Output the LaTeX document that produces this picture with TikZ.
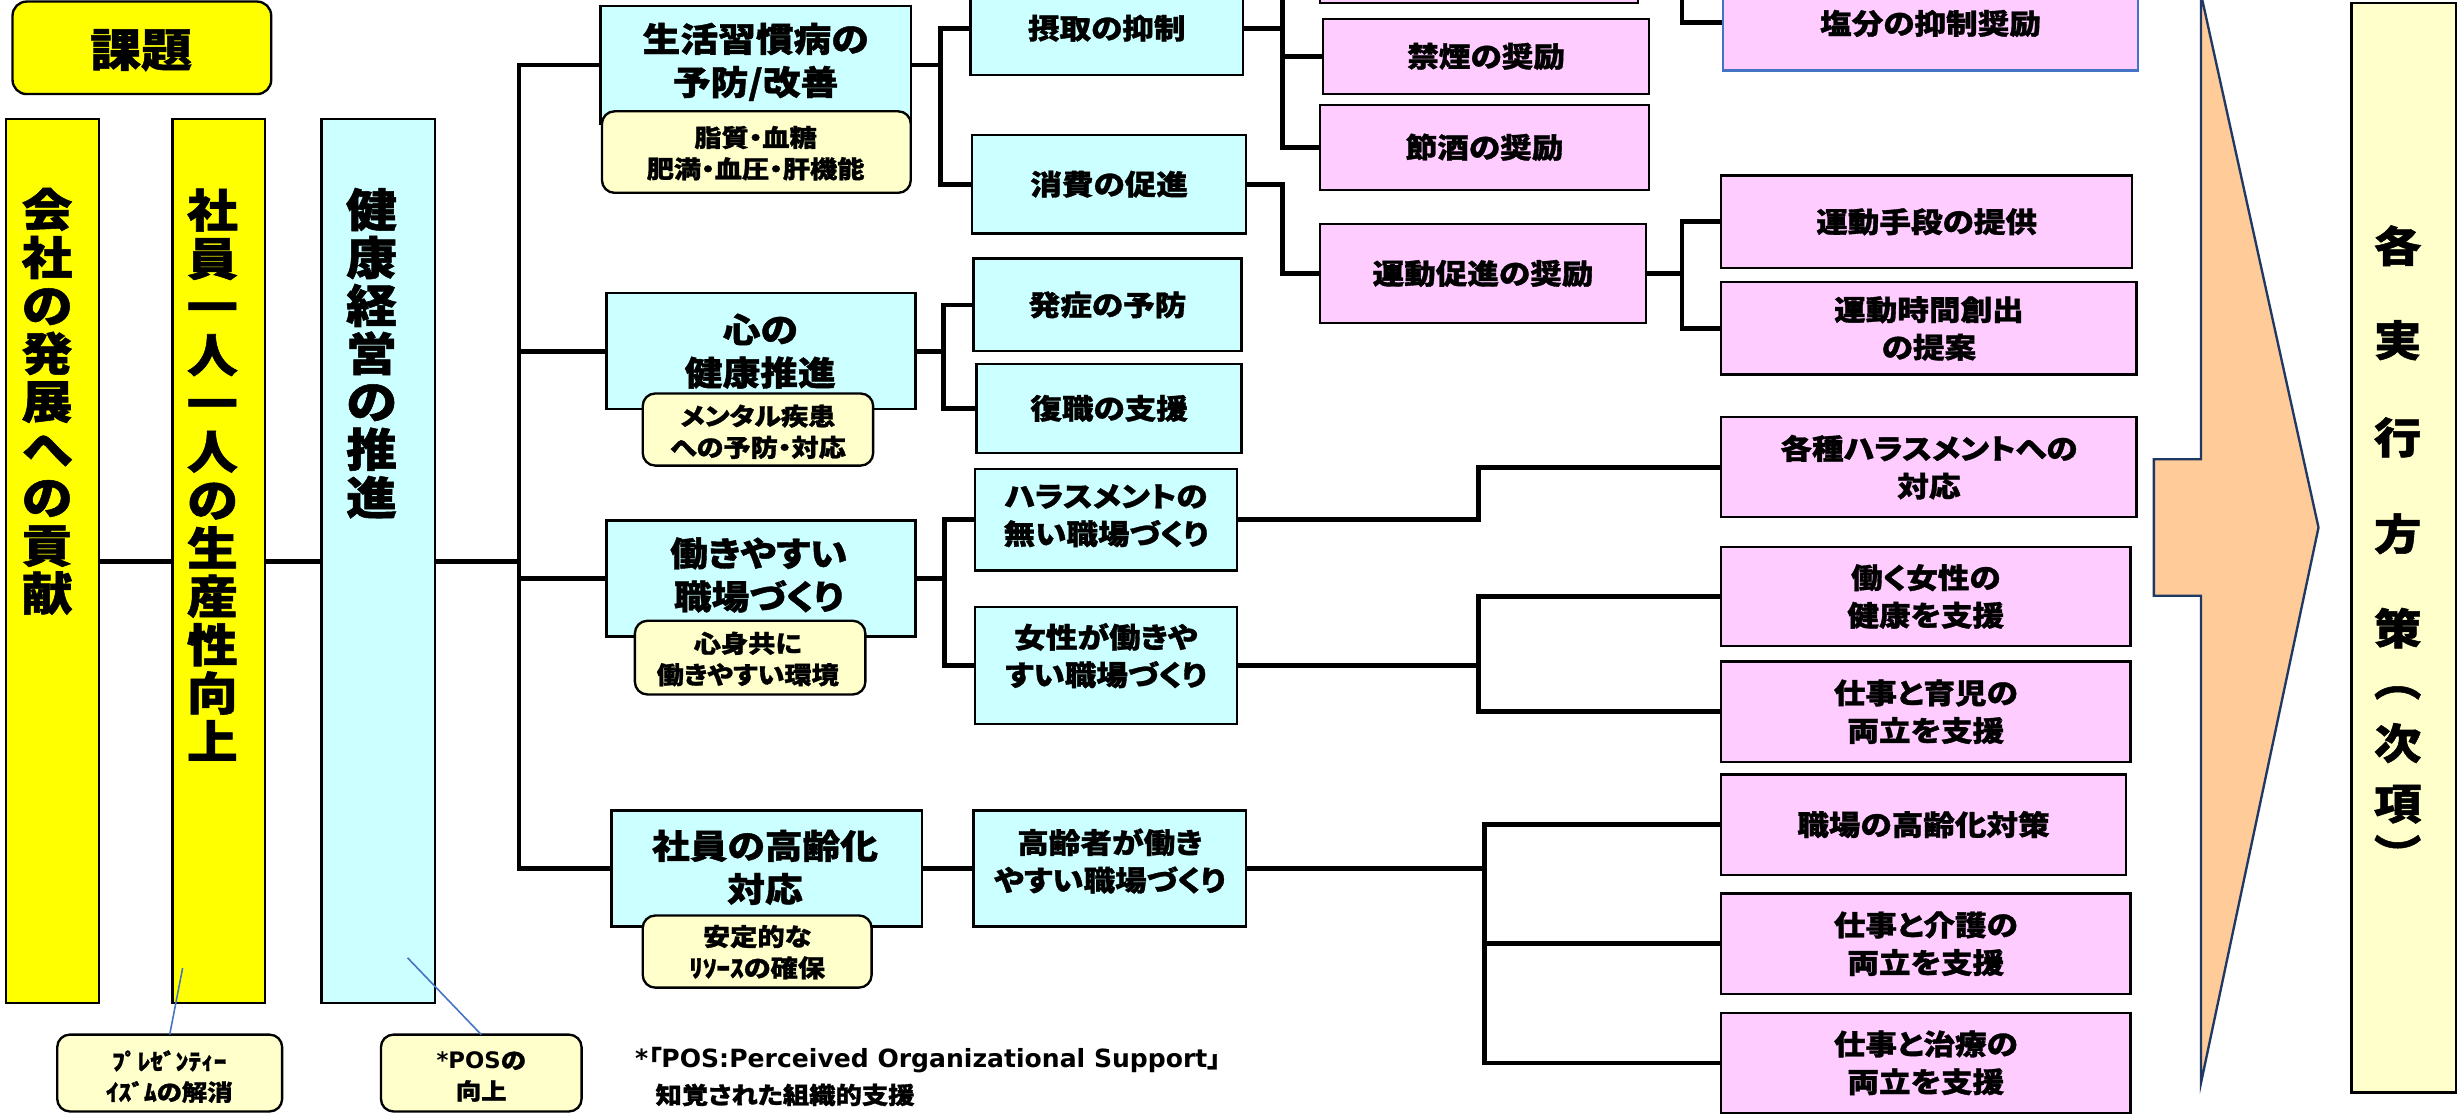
\documentclass[tikz,border=0pt]{standalone}
\usepackage{fontspec}
\setmainfont{Noto Sans CJK JP}[FakeStretch=1.12,RawFeature=+palt,BoldFeatures={FakeBold=1.2}]
\newfontfamily\lat{DejaVu Sans}
\usetikzlibrary{fit}
\pgfdeclarelayer{bg}
\pgfsetlayers{bg,main}
\definecolor{ylw}{HTML}{FFFF00}
\definecolor{cyn}{HTML}{CCFFFF}
\definecolor{lyl}{HTML}{FFFFCC}
\definecolor{pnk}{HTML}{FFCCFF}
\definecolor{org}{HTML}{FFCC99}
\definecolor{navy}{HTML}{1F3864}
\definecolor{blu}{HTML}{4472C4}
\tikzset{
  box/.style={draw=black, line width=1.5pt, inner sep=0pt, outer sep=0pt},
  ybox/.style={box, fill=ylw},
  cbox/.style={box, fill=cyn},
  pbox/.style={box, fill=pnk},
  lbox/.style={box, fill=lyl},
  sbox/.style={box, fill=lyl, rounded corners=8pt},
  conn/.style={draw=black, line width=3pt, line join=miter, line cap=rect},
  cline/.style={draw=blu, line width=1pt},
  ttl/.style={inner sep=0pt, align=center, font=\bfseries\fontsize{29}{30.6}\selectfont},
  thd/.style={inner sep=0pt, align=center, font=\bfseries\fontsize{21.5}{27.5}\selectfont},
  tmd/.style={inner sep=0pt, align=center, font=\bfseries\fontsize{18}{24}\selectfont},
  tsm/.style={inner sep=0pt, align=center, font=\bfseries\fontsize{15.5}{20}\selectfont},
  tcl/.style={inner sep=0pt, align=center, font=\bfseries\fontsize{14.5}{19.6}\selectfont},
  tvr/.style={inner sep=0pt, font=\bfseries\fontsize{27}{27}\selectfont},
  tfn/.style={inner sep=0pt, anchor=west, font=\bfseries\fontsize{15}{20}\selectfont},
}
\newcommand\bx[6]{\node[#6, fit={(#2,#3) (#4,#5)}] (#1) {};}
\begin{document}
\begin{tikzpicture}[x=1pt,y=-1pt]
\useasboundingbox (0,0) rectangle (1568,713);
% left
\bx{kadai}{8}{1}{173}{60}{ybox, rounded corners=9pt}
\node[ttl] (kadait) at (90,32) {課題};
\bx{colA}{4}{76}{63}{640}{ybox}
\bx{colB}{110}{76}{169}{640}{ybox}
\bx{colC}{205}{76}{277.5}{640}{cbox}
\node[ttl] (colAt) at (30,256) {会\\社\\の\\発\\展\\へ\\の\\貢\\献};
\node[ttl, font=\bfseries\fontsize{29}{30.8}\selectfont] (colBt) at (135.5,302.7) {社\\員\\一\\人\\一\\人\\の\\生\\産\\性\\向\\上};
\node[ttl] (colCt) at (237,225.3) {健\\康\\経\\営\\の\\推\\進};
% level 1
\bx{seik}{383}{4}{581}{79}{cbox}
\bx{seiks}{384}{71}{581}{123}{sbox}
\node[thd] (seikt) at (482,39.5) {生活習慣病の\\予防/改善};
\node[tsm] (seikst) at (482,97.7) {脂質・血糖\\肥満・血圧・肝機能};
\bx{koko}{387}{187}{584}{261}{cbox}
\bx{kokos}{410}{251}{557}{297}{sbox}
\node[thd] (kokot) at (485,224) {心の\\健康推進};
\node[tsm] (kokost) at (483.5,275.4) {メンタル疾患\\への予防・対応};
\bx{hata}{387}{332}{584}{406}{cbox}
\bx{hatas}{405}{396}{552}{443}{sbox}
\node[thd] (hatat) at (484,366.8) {働きやすい\\職場づくり};
\node[tsm] (hatast) at (477,420.4) {心身共に\\働きやすい環境};
\bx{kore}{390}{517}{588}{591}{cbox}
\bx{kores}{410}{584}{556}{630}{sbox}
\node[thd] (koret) at (488,553.3) {社員の高齢化\\対応};
\node[tsm] (korest) at (483,607.4) {安定的な\\ﾘｿｰｽの確保};
% level 2
\bx{sess}{619}{-12}{793}{48}{cbox}
\node[tmd] (sesst) at (706,18) {摂取の抑制};
\bx{shoh}{620}{86}{795}{149}{cbox}
\node[tmd] (shoht) at (707.5,117.5) {消費の促進};
\bx{hass}{621}{165}{792}{224}{cbox}
\node[tmd] (hasst) at (706.5,194.5) {発症の予防};
\bx{fuku}{623}{232}{792}{289}{cbox}
\node[tmd] (fukut) at (707.5,260.5) {復職の支援};
\bx{hara}{622}{299}{789}{364}{cbox}
\node[tmd] (harat) at (705.5,329) {ハラスメントの\\無い職場づくり};
\bx{jose}{622}{387}{789}{462}{cbox}
\node[tmd] (joset) at (705.5,418.3) {女性が働きや\\すい職場づくり};
\bx{kous}{621}{517}{795}{591}{cbox}
\node[tmd] (koust) at (708,549.3) {高齢者が働き\\やすい職場づくり};
% level 3
\bx{topb}{842}{-46}{1045}{2}{pbox}
\bx{kine}{844}{12}{1052}{60}{pbox}
\node[tmd] (kinet) at (948,36) {禁煙の奨励};
\bx{sets}{842}{67}{1052}{121}{pbox}
\node[tmd] (setst) at (947,94) {節酒の奨励};
\bx{undo}{842}{143}{1050}{206}{pbox}
\node[tmd] (undot) at (946,174.5) {運動促進の奨励};
\bx{enbu}{1099}{-16}{1364}{45}{pbox, draw=blu}
\node[tmd] (enbut) at (1231.5,15) {塩分の抑制奨励};
\bx{shud}{1098}{112}{1360}{171}{pbox}
\node[tmd] (shudt) at (1229,141.5) {運動手段の提供};
\bx{jika}{1098}{180}{1363}{239}{pbox}
\node[tmd] (jikat) at (1230.5,209.5) {運動時間創出\\の提案};
\bx{kaku}{1098}{266}{1363}{330}{pbox}
\node[tmd] (kakut) at (1230.5,298) {各種ハラスメントへの\\対応};
\bx{htrk}{1098}{349}{1359}{412}{pbox}
\node[tmd] (htrkt) at (1228.5,380.5) {働く女性の\\健康を支援};
\bx{ikuj}{1098}{422}{1359}{486}{pbox}
\node[tmd] (ikujt) at (1228.5,454) {仕事と育児の\\両立を支援};
\bx{shok}{1098}{494}{1356}{558}{pbox}
\node[tmd] (shokt) at (1227,526) {職場の高齢化対策};
\bx{kaig}{1098}{570}{1359}{634}{pbox}
\node[tmd] (kaigt) at (1228.5,602) {仕事と介護の\\両立を支援};
\bx{chir}{1098}{646}{1359}{710}{pbox}
\node[tmd] (chirt) at (1228.5,678) {仕事と治療の\\両立を支援};
% arrow and right box
\draw[draw=navy, fill=org, line width=1.5pt, line join=miter] (1404,-4) -- (1479,336.5) -- (1404,691) -- (1404,380) -- (1374,380) -- (1374,293) -- (1404,293) -- cycle;
\bx{jikou}{1500}{2}{1566.5}{697}{lbox}
\foreach \c/\yy [count=\i] in {各/156.7, 実/217, 行/279, 方/340.5, 策/400.7, ︵/442, 次/474, 項/513, ︶/544}
  \node[tvr] (v\i) at (1529.5,\yy) {\c};
% callouts
\bx{pres}{36.5}{660}{180}{709}{sbox}
\bx{posb}{243}{660}{371}{709}{sbox}
\node[tcl] (prest) at (108,686.8) {ﾌﾟﾚｾﾞﾝﾃｨｰ\\ｲｽﾞﾑの解消};
\node[tcl] (post) at (307,686.8) {{\lat *POS}の\\向上};
\coordinate (pA) at (116.5,617.5);
\coordinate (pB) at (260,611);
\draw[cline] (pA) -- (pres.north);
\draw[cline] (pB) -- (posb.north);
% footnote
\node[tfn] (fn1) at (405,676) {{\lat\fontsize{16}{20}\selectfont *}「{\lat\fontsize{16}{20}\selectfont POS:Perceived Organizational Support}」};
\node[tfn] (fn2) at (418,698.5) {知覚された組織的支援};
% connectors
\coordinate (T) at (331,0);
\coordinate (B1) at (600,0);
\coordinate (B2) at (602,0);
\coordinate (B3) at (602.5,0);
\coordinate (B4) at (818,0);
\coordinate (B6) at (1073,0);
\coordinate (B7) at (943,0);
\coordinate (B9) at (947,0);
\coordinate (topin) at (1073,-30);
\begin{pgfonlayer}{bg}
\fill[white] (0,0) rectangle (1568,713);
\draw[conn] (colA.east) -- (colB.west);
\draw[conn] (colB.east) -- (colC.west);
\draw[conn] (colC.east) -- (colC.east -| T);
\draw[conn] (T |- seik.west) -- (T |- kore.west);
\foreach \n in {seik,koko,hata,kore} \draw[conn] (T |- \n.west) -- (\n.west);
\foreach \n in {sess,shoh} \draw[conn] (seik.east) -- (seik.east -| B1) |- (\n.west);
\foreach \n in {hass,fuku} \draw[conn] (koko.east) -- (koko.east -| B2) |- (\n.west);
\foreach \n in {hara,jose} \draw[conn] (hata.east) -- (hata.east -| B3) |- (\n.west);
\draw[conn] (kore.east) -- (kous.west);
\foreach \n in {topb,kine,sets} \draw[conn] (sess.east) -- (sess.east -| B4) |- (\n.west);
\draw[conn] (shoh.east) -- (shoh.east -| B4) |- (undo.west);
\foreach \n in {shud,jika} \draw[conn] (undo.east) -- (undo.east -| B6) |- (\n.west);
\draw[conn] (topin) |- (enbu.west);
\draw[conn] (hara.east) -- (hara.east -| B7) |- (kaku.west);
\foreach \n in {htrk,ikuj} \draw[conn] (jose.east) -- (jose.east -| B7) |- (\n.west);
\foreach \n in {shok,kaig,chir} \draw[conn] (kous.east) -- (kous.east -| B9) |- (\n.west);
\end{pgfonlayer}
\end{tikzpicture}
\end{document}
